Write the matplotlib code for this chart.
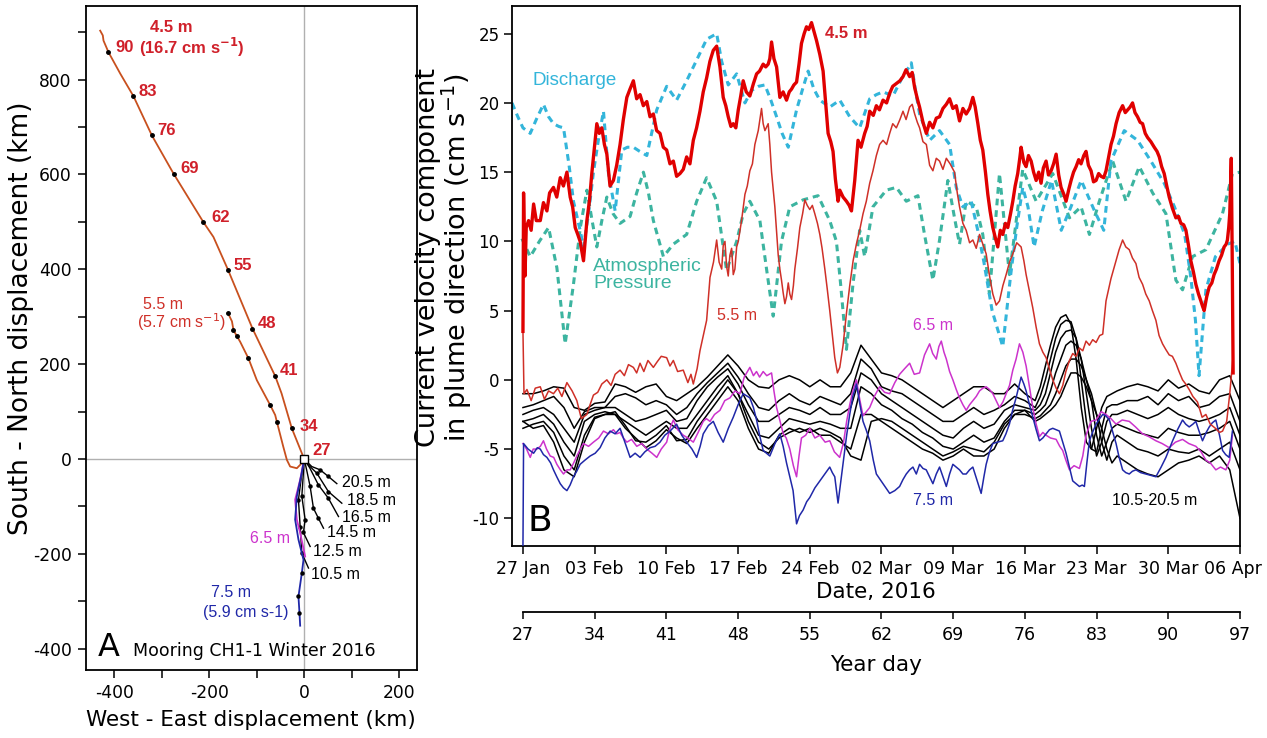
import numpy as np
import matplotlib
matplotlib.use("Agg")
import matplotlib.pyplot as plt
from matplotlib.ticker import MultipleLocator
from matplotlib.transforms import ScaledTranslation

plt.rcParams['font.family'] = 'DejaVu Sans'
plt.rcParams['axes.unicode_minus'] = False
ARIAL = 'Liberation Sans'

# ---------------- panel A : progressive vector tracks (km) ----------------
trk45_e = [0, -26, -47.6, -61, -108.8, -160.6, -191, -212, -275, -320.6, -359.4, -387, -412, -422.5, -424, -429.5]
trk45_n = [0, 64.6, 138.3, 174.7, 275, 399.4, 468, 499, 601.5, 682, 764.8, 812, 857.5, 882, 893, 903]
wk45_e = [-26, -61, -108.8, -160.6, -212, -275, -320.6, -359.4, -412]
wk45_n = [64.6, 174.7, 275, 399.4, 499, 601.5, 682, 764.8, 857.5]
wk45_lab = ['34', '41', '48', '55', '62', '69', '76', '83', '90']
wk45_lab_e = [-10.5, -50.5, -96.8, -149.5, -195.8, -261, -309.5, -349.5, -398]
wk45_lab_n = [67.4, 187.4, 286.3, 408.4, 509.5, 612.6, 692.6, 774.7, 867]

trk55_e = [0, -8, -15.4, -29.5, -36.4, -44, -57.5, -61, -71.6, -99.6, -117.3, -134.7, -141.7, -148.8, -152, -160.6]
trk55_n = [0, -12, -19.6, -16, -2, 26, 78.6, 92.6, 113.7, 166, 212, 247, 259, 271.6, 290, 308]
wk55_e = [-57.5, -71.6, -117.3, -141.7, -148.8, -160.6]
wk55_n = [78.6, 113.7, 212, 259, 271.6, 308]

deep_tracks = {
    '20.5 m': ([0, 16, 33.7, 51, 68.8], [0, -16, -23, -37, -52]),
    '18.5 m': ([0, 8.4, 26.7, 51, 79.3], [0, -12, -30, -68.8, -93.3]),
    '16.5 m': ([0, 11.9, 30, 51, 72.3], [0, -19, -54.7, -82.8, -121.4]),
    '14.5 m': ([0, 5, 12.6, 19.6, 30, 40.7], [0, -22, -58, -104, -125, -146]),
    '12.5 m': ([0, -1.6, -4.9, 2.1, -1.6, 12.6], [0, -29.5, -79, -128, -155, -184.6]),
    '10.5 m': ([0, -5.6, -12, -8.4, -4.9, 9.1], [0, -36.5, -86, -142.5, -198.6, -230]),
}
deep_lab_e = [80, 90.5, 80, 48.4, 19, 14.7]
deep_lab_n = [-50.5, -88.4, -123.6, -155.8, -195.8, -244.2]

trk65_e = [0, -8.4, -19, -15.4, -8.4, 2.1]
trk65_n = [0, -44, -86, -128, -156, -205.7]
trk75_e = [0, -5, -15.4, -19, -12, -1.4, -4.9, -12, -9.8, -8.4]
trk75_n = [0, -29, -79, -128, -170, -212.6, -240.6, -290, -325, -351.6]
wk75_e = [-4.9, -12, -9.8]
wk75_n = [-240.6, -290, -325]

# ---------------- panel B : velocity time series (days after 27 Jan) ----------------
d45 = [0.0, 0.06, 0.2, 0.32, 0.55, 0.8, 1.04, 1.3, 1.69, 2.0, 2.34, 2.6, 2.98, 3.3, 3.64, 3.95, 4.29, 4.61, 4.85, 5.1,
       5.35, 5.58, 5.75, 5.91, 6.24, 6.5, 6.72, 7.0, 7.21, 7.45, 7.7, 7.95, 8.19, 8.5, 8.83, 9.15, 9.48, 9.8, 10.14, 10.45,
       10.78, 11.1, 11.43, 11.75, 12.09, 12.4, 12.73, 13.05, 13.38, 13.7, 14.03, 14.35, 14.68, 15.0, 15.33, 15.65, 15.98,
       16.3, 16.63, 16.95, 17.28, 17.6, 17.93, 18.25, 18.58, 18.91, 19.23, 19.55, 19.8, 20.04, 20.3, 20.53, 20.78, 21.02,
       21.26, 21.5, 21.8, 22.15, 22.5, 22.81, 23.1, 23.45, 23.7, 23.94, 24.1, 24.27, 24.5, 24.76, 25.08, 25.4, 25.73, 26.0,
       26.22, 26.45, 26.71, 26.95, 27.19, 27.45, 27.68, 27.9, 28.17, 28.4, 28.66, 28.98, 29.3, 29.55, 29.79, 30.05, 30.27,
       30.5, 30.76, 30.93, 31.25, 31.58, 31.85, 32.07, 32.39, 32.71, 33.0, 33.36, 33.6, 33.85, 34.2, 34.5, 34.8, 35.15,
       35.5, 35.8, 36.1, 36.45, 36.8, 37.1, 37.4, 37.75, 38.0, 38.24, 38.5, 38.72, 39.05, 39.38, 39.7, 40.02, 40.35, 40.67,
       41.0, 41.33, 41.65, 41.97, 42.3, 42.62, 42.95, 43.27, 43.6, 43.92, 44.15, 44.41, 44.65, 44.89, 45.15, 45.38, 45.6,
       45.87, 46.1, 46.35, 46.6, 46.84, 47.1, 47.33, 47.6, 47.82, 48.05, 48.3, 48.5, 48.63, 48.9, 49.12, 49.35, 49.61,
       49.85, 50.1, 50.35, 50.58, 50.8, 51.07, 51.3, 51.56, 51.8, 52.05, 52.3, 52.53, 52.8, 53.02, 53.3, 53.51, 53.75,
       54.0, 54.25, 54.48, 54.75, 54.97, 55.2, 55.46, 55.7, 55.95, 56.2, 56.43, 56.7, 56.92, 57.15, 57.41, 57.65, 57.9,
       58.2, 58.54, 58.8, 59.03, 59.27, 59.51, 59.75, 60.0, 60.25, 60.49, 60.75, 60.98, 61.3, 61.63, 61.9, 62.12, 62.35,
       62.6, 62.85, 63.09, 63.4, 63.74, 64.0, 64.23, 64.5, 64.72, 64.95, 65.2, 65.45, 65.69, 65.95, 66.18, 66.35, 66.5,
       66.75, 66.99, 67.25, 67.47, 67.7, 67.96, 68.2, 68.45, 68.65, 68.77, 68.9, 69.0, 69.15, 69.25, 69.33]
v45 = [3.5, 13.5, 7.5, 11.0, 11.5, 10.8, 12.7, 11.5, 11.5, 12.8, 12.2, 13.5, 13.9, 13.2, 14.6, 14.0, 15.0, 13.2, 12.5, 11.0,
       10.5, 10.0, 9.3, 8.6, 11.5, 13.0, 14.9, 17.0, 18.5, 17.8, 18.2, 17.0, 16.3, 14.0, 14.4, 15.5, 17.0, 18.8, 20.4, 21.0,
       21.6, 20.3, 20.6, 19.8, 20.1, 19.0, 19.2, 18.0, 17.8, 16.8, 16.6, 15.6, 15.8, 14.7, 14.9, 15.2, 16.1,
       15.6, 17.3, 18.2, 19.4, 20.8, 21.8, 23.0, 23.8, 24.1, 22.6, 20.4, 19.8, 19.0, 18.3, 18.5, 18.2, 19.5,
       20.5, 21.6, 20.8, 20.5, 21.4, 22.1, 22.3, 22.8, 22.6, 22.8, 23.2, 24.4, 23.2, 22.6, 20.4, 20.8, 20.2, 20.8,
       21.0, 21.3, 21.5, 22.8, 24.3, 25.0, 25.5, 25.3, 25.8, 25.2, 24.5, 23.5, 22.3, 20.0, 17.8, 17.2, 16.5,
       14.5, 12.9, 13.7, 13.2, 12.9, 12.6, 12.2, 14.4, 17.3, 16.8, 17.8, 18.3, 19.4, 19.1, 19.8, 19.5, 20.2,
       20.0, 20.7, 21.2, 21.4, 21.6, 21.9, 22.4, 21.9, 22.2, 21.1, 20.3, 19.7, 18.6, 17.8, 18.6, 18.2, 18.9, 19.0,
       19.6, 19.9, 20.3, 19.6, 19.8, 18.7, 19.6, 19.2, 19.6, 20.4, 19.7, 18.5, 17.3, 16.6, 15.0, 13.4, 12.2,
       11.0, 10.3, 9.6, 10.8, 10.5, 11.3, 11.0, 12.0, 12.9, 14.0, 14.9, 16.0, 16.8, 15.7, 15.4, 16.2, 15.8,
       15.0, 14.4, 15.0, 14.2, 15.3, 15.8, 14.8, 15.1, 15.6, 16.3, 14.8, 13.9, 13.4, 12.9, 13.8, 14.4, 15.0,
       15.4, 15.9, 15.6, 16.2, 16.5, 15.5, 15.1, 14.3, 14.4, 14.9, 14.7, 14.6, 15.1, 16.0, 17.0, 17.6, 18.5,
       19.3, 19.8, 19.3, 19.5, 19.7, 20.0, 19.3, 19.0, 18.6, 18.5, 17.8, 17.5, 17.2, 16.8, 16.5, 16.1, 15.4,
       14.9, 14.0, 13.2, 12.4, 11.7, 11.8, 11.3, 11.2, 10.8, 9.8, 8.6, 7.8, 6.9, 6.2, 5.7, 5.3, 5.0,
       6.0, 6.7, 7.0, 7.6, 8.0, 8.6, 9.0, 9.6, 9.8, 10.1, 11.0, 12.0, 16.0, 8.0, 0.5]

d55 = [0.0, 0.1, 0.39, 0.8, 1.2, 1.69, 2.1, 2.5, 2.98, 3.4, 3.8, 4.29, 4.8, 5.26, 5.7, 6.24, 6.55, 6.88, 7.3, 7.7, 8.19,
       8.6, 9.0, 9.48, 9.9, 10.3, 10.78, 11.1, 11.43, 11.8, 12.2, 12.73, 13.1, 13.5, 14.03, 14.35, 14.68, 15.1, 15.65,
       16.1, 16.4, 16.63, 17.0, 17.28, 17.6, 17.93, 18.26, 18.6, 18.91, 19.15, 19.4, 19.55, 19.72, 19.88, 20.04, 20.2,
       20.37, 20.53, 20.69, 20.86, 21.02, 21.34, 21.67, 21.9, 22.15, 22.4, 22.64, 22.97, 23.29, 23.45, 23.62, 23.94,
       24.1, 24.27, 24.59, 24.92, 25.08, 25.24, 25.4, 25.57, 25.73, 25.9, 26.05, 26.22, 26.4, 26.54, 26.8, 27.03, 27.3,
       27.52, 27.75, 28.0, 28.25, 28.49, 28.75, 28.98, 29.2, 29.47, 29.7, 29.95, 30.2, 30.44, 30.7, 30.93, 31.25,
       31.58, 31.9, 32.23, 32.55, 32.87, 33.2, 33.52, 33.85, 34.17, 34.5, 34.82, 35.15, 35.5, 35.8, 36.1, 36.45,
       36.8, 37.1, 37.4, 37.75, 38.0, 38.24, 38.5, 38.72, 39.05, 39.38, 39.7, 40.02, 40.35, 40.67, 41.0, 41.33,
       41.7, 42.13, 42.4, 42.62, 42.95, 43.27, 43.6, 43.92, 44.25, 44.57, 44.9, 45.22, 45.55, 45.87, 46.2, 46.52,
       46.85, 47.17, 47.5, 47.82, 48.2, 48.63, 48.9, 49.12, 49.45, 49.77, 50.1, 50.42, 50.75, 51.07, 51.4, 51.72,
       52.05, 52.37, 52.7, 53.0, 53.35, 53.67, 54.0, 54.32, 54.65, 54.97, 55.3, 55.62, 55.95, 56.3, 56.6, 56.92,
       57.4, 57.9, 58.2, 58.54, 58.85, 59.19, 59.5, 59.84, 60.15, 60.49, 60.8, 61.14, 61.45, 61.79, 62.1, 62.44,
       62.75, 63.09, 63.4, 63.74, 64.05, 64.39, 64.7, 65.04, 65.4, 65.85, 66.3, 66.67, 67.1, 67.6, 68.0, 68.3,
       68.7, 69.0, 69.3]
v55 = [3.5, -1.0, -0.7, -1.5, -0.6, -0.5, -1.4, -0.8, -1.0, -0.6, -1.2, -0.2, -0.8, -1.5, -2.8, -2.5, -1.8, -1.1, -0.9, -0.3, 0.0,
       -0.4, 0.4, 0.7, 0.3, 1.1, 0.9, 0.5, 1.2, 0.6, 1.4, 0.9, 1.3, 1.7, 1.6, 1.0, 1.4, 0.6, 0.7,
       -0.2, 0.4, -0.3, 0.8, 2.1, 3.2, 4.3, 7.4, 8.5, 10.1, 8.5, 8.0, 9.7, 10.0, 8.2, 7.5, 9.0,
       9.5, 7.6, 8.0, 9.6, 10.0, 11.5, 13.4, 14.0, 15.1, 15.6, 17.0, 18.0, 19.6, 18.5, 18.0, 18.5,
       17.0, 15.0, 12.5, 9.0, 8.0, 7.2, 6.3, 5.5, 6.0, 7.0, 6.2, 5.8, 6.8, 8.0, 9.5, 11.0, 12.0,
       13.0, 12.6, 12.3, 12.6, 12.0, 11.3, 10.5, 9.5, 8.0, 6.6, 5.0, 3.3, 1.6, 0.5, 0.9, 2.5,
       4.8, 6.8, 8.6, 9.8, 10.8, 12.0, 12.9, 14.2, 15.1, 16.2, 17.0, 17.3, 17.0, 17.8, 18.5, 18.2,
       18.8, 19.4, 18.8, 19.7, 19.9, 19.2, 18.6, 18.2, 17.2, 17.0, 15.5, 15.1, 16.0, 15.8, 15.2, 16.0,
       15.6, 15.0, 13.5, 12.5, 11.3, 10.8, 9.9, 10.1, 9.5, 10.5, 9.8, 9.1, 7.5, 6.2, 5.4, 5.7,
       6.8, 7.6, 8.5, 9.1, 9.9, 9.6, 8.6, 7.6, 6.4, 5.2, 3.8, 2.6, 2.0, 1.6, 0.8, 0.0,
       -0.6, -1.0, -0.4, 0.6, 1.4, 1.9, 1.7, 2.3, 2.1, 2.8, 2.5, 2.9, 2.7, 3.2, 3.3, 5.7,
       7.3, 8.6, 9.4, 10.1, 9.6, 9.4, 8.8, 8.4, 7.4, 6.9, 6.2, 5.7, 5.0, 4.3, 3.2, 2.6,
       2.2, 1.8, 1.7, 1.2, 0.6, 0.0, -0.3, -0.7, -1.2, -1.6, -2.7, -2.5, -3.2, -3.5, -3.8, -3.7,
       -3.0, -1.0, 1.5]

d65 = [0.0, 0.35, 0.71, 1.0, 1.36, 1.7, 2.0, 2.3, 2.66, 3.0, 3.31, 3.65, 3.96, 4.3, 4.61, 4.95, 5.26, 5.6, 5.91, 6.4,
       6.88, 7.4, 7.86, 8.35, 8.83, 9.15, 9.48, 9.8, 10.14, 10.6, 11.11, 11.6, 12.09, 12.6, 13.06, 13.5, 14.03, 14.35,
       14.68, 15.1, 15.65, 16.1, 16.63, 17.1, 17.6, 17.9, 18.26, 18.7, 19.23, 19.7, 20.21, 20.7, 21.18, 21.6, 22.15,
       22.5, 22.8, 23.1, 23.45, 23.8, 24.27, 24.5, 24.76, 25.1, 25.41, 25.7, 26.05, 26.4, 26.71, 26.95, 27.19, 27.6,
       28.0, 28.5, 28.98, 29.5, 29.95, 30.4, 30.92, 31.3, 31.6, 31.9, 32.2, 32.55, 32.9, 33.2, 33.85, 34.3, 34.82,
       35.3, 35.8, 36.3, 36.77, 37.25, 37.75, 38.2, 38.72, 39.2, 39.7, 40.0, 40.35, 40.6, 40.84, 41.1, 41.33, 41.65,
       41.97, 42.3, 42.62, 42.95, 43.27, 43.6, 43.92, 44.25, 44.57, 44.9, 45.22, 45.55, 45.87, 46.2, 46.52, 46.85,
       47.17, 47.5, 47.82, 48.14, 48.47, 48.8, 49.12, 49.45, 49.77, 50.1, 50.42, 50.75, 51.07, 51.5, 52.05, 52.4,
       52.69, 53.0, 53.35, 53.8, 54.32, 54.65, 54.97, 55.45, 55.95, 56.45, 56.92, 57.4, 57.9, 58.5, 59.19, 59.8,
       60.49, 61.1, 61.79, 62.4, 63.09, 63.7, 64.39, 65.0, 65.69, 66.2, 66.67, 67.1, 67.64, 68.1, 68.62, 69.0, 69.26]
v65 = [-4.6, -5.0, -5.6, -5.0, -5.0, -4.8, -4.4, -5.0, -5.5, -5.6, -6.1, -6.5, -6.8, -6.5, -6.5, -6.0, -5.5, -5.0, -4.6, -4.8,
       -4.5, -4.2, -3.7, -3.9, -3.6, -3.9, -3.8, -4.2, -4.5, -4.3, -4.8, -4.6, -5.0, -5.3, -5.6, -5.0, -4.5, -3.5,
       -2.9, -3.6, -4.0, -4.2, -4.5, -3.8, -3.0, -2.8, -3.0, -2.5, -2.2, -1.5, -1.3, -0.8, -1.0, 0.2, 0.9,
       0.3, 0.6, 0.2, 0.6, 0.3, 0.5, -0.8, -2.0, -3.0, -3.9, -4.2, -5.0, -6.2, -7.0, -5.5, -4.2, -4.0,
       -3.5, -4.2, -4.0, -4.5, -4.4, -5.2, -5.6, -4.5, -3.0, -1.8, -0.8, 0.0, -1.5, -2.6, -2.0, -1.2, -0.5,
       -0.9, -1.0, -0.2, 0.4, 0.8, 1.2, 0.4, 0.5, 1.8, 2.6, 1.9, 1.5, 2.4, 2.8, 2.0, 1.5, 0.6,
       0.0, -0.7, -1.3, -1.8, -2.2, -1.8, -1.5, -1.2, -0.8, -0.6, -0.5, -0.7, -1.0, -1.5, -2.0, -1.6,
       -1.0, -0.4, 0.7, 1.5, 2.6, 2.0, 1.0, -0.5, -2.0, -3.2, -4.1, -3.8, -4.0, -4.2, -4.3, -4.8,
       -5.1, -5.8, -6.5, -6.2, -6.4, -5.5, -4.0, -3.0, -2.9, -2.3, -2.5, -2.8, -3.2, -2.9, -3.0, -3.4,
       -3.9, -4.1, -4.4, -4.6, -4.9, -4.5, -4.3, -4.6, -4.8, -5.2, -5.8, -6.0, -6.5, -6.3, -6.5, -5.8, -4.0]

d75 = [0.0, 0.06, 0.5, 1.04, 1.4, 1.69, 2.0, 2.34, 2.7, 2.98, 3.3, 3.64, 3.95, 4.29, 4.6, 4.93, 5.25, 5.58, 6.05, 6.56,
       7.05, 7.53, 8.0, 8.51, 9.0, 9.48, 9.95, 10.46, 10.95, 11.43, 11.9, 12.41, 12.9, 13.38, 13.85, 14.36, 15.0, 15.5,
       15.98, 16.5, 16.96, 17.3, 17.6, 18.1, 18.58, 19.05, 19.55, 20.05, 20.53, 21.0, 21.5, 22.15, 22.5, 22.81, 23.1,
       23.45, 24.1, 24.6, 25.08, 25.4, 25.73, 26.05, 26.37, 26.71, 27.0, 27.35, 27.7, 28.0, 28.5, 28.98, 29.45, 29.95,
       30.2, 30.44, 30.76, 31.0, 31.25, 31.6, 31.9, 32.2, 32.55, 32.9, 33.2, 33.5, 33.85, 34.2, 34.5, 35.15, 35.8,
       36.3, 36.77, 37.1, 37.42, 37.75, 38.07, 38.4, 38.72, 39.05, 39.37, 39.7, 40.02, 40.35, 40.67, 41.0, 41.33,
       41.65, 41.97, 42.3, 42.62, 42.95, 43.27, 43.6, 43.92, 44.3, 44.73, 45.0, 45.22, 45.55, 45.87, 46.3, 46.84,
       47.15, 47.49, 47.8, 48.14, 48.4, 48.63, 48.9, 49.12, 49.45, 49.77, 50.1, 50.42, 50.75, 51.07, 51.4, 51.72,
       52.05, 52.37, 52.7, 53.02, 53.35, 53.67, 54.0, 54.32, 54.6, 54.81, 55.05, 55.3, 55.6, 55.95, 56.3, 56.6,
       56.9, 57.25, 57.55, 57.9, 58.2, 58.54, 58.85, 59.19, 59.5, 59.84, 60.3, 60.82, 61.3, 61.79, 62.3, 62.77,
       63.1, 63.42, 63.9, 64.39, 64.7, 65.04, 65.4, 65.69, 66.0, 66.34, 66.7, 67.0, 67.3, 67.64, 68.0, 68.3,
       68.6, 68.94, 69.26]
v75 = [-12.0, -4.6, -5.0, -5.3, -4.9, -5.0, -5.4, -5.6, -6.0, -6.5, -7.0, -7.5, -7.8, -8.0, -7.6, -7.0, -6.6, -6.1, -5.8, -5.5,
       -5.3, -4.9, -4.2, -3.7, -3.9, -3.5, -4.5, -5.6, -5.3, -5.6, -5.2, -4.9, -4.8, -4.5, -4.0, -3.7, -3.2, -4.0,
       -4.5, -5.0, -5.6, -4.8, -3.9, -3.3, -3.0, -3.8, -4.5, -3.5, -2.7, -1.8, -1.0, -1.3, -2.0, -2.9, -4.0,
       -5.1, -5.5, -4.6, -3.9, -4.8, -6.0, -7.0, -8.0, -10.4, -9.8, -9.4, -8.8, -8.5, -7.8, -7.3, -6.8, -6.3,
       -6.7, -7.0, -8.9, -7.5, -6.0, -4.0, -2.5, -1.2, -0.3, -1.8, -3.0, -3.6, -4.4, -5.8, -6.8, -7.5, -8.2,
       -8.0, -7.7, -7.2, -6.8, -6.5, -6.3, -6.8, -6.1, -6.4, -6.5, -7.0, -7.5, -6.8, -6.3, -7.0, -7.7,
       -6.8, -6.1, -6.3, -6.5, -6.8, -6.8, -6.5, -6.3, -7.2, -8.2, -7.0, -6.1, -5.2, -4.6, -4.5, -4.4,
       -3.9, -3.2, -2.2, -1.3, -0.5, 0.2, -0.3, -0.8, -1.8, -2.7, -3.6, -4.4, -4.2, -3.9, -3.6, -3.5,
       -3.6, -3.7, -4.5, -5.3, -6.3, -7.3, -7.5, -7.7, -7.6, -7.7, -6.0, -4.4, -3.8, -3.2, -2.8, -2.5,
       -2.6, -2.9, -3.7, -4.6, -5.6, -6.5, -6.7, -6.8, -6.6, -6.5, -6.7, -6.8, -6.9, -7.0, -6.3, -5.6,
       -5.0, -4.4, -3.6, -2.9, -3.2, -3.4, -3.2, -3.0, -3.7, -4.4, -3.8, -3.4, -3.1, -2.9, -4.0, -5.1,
       -5.4, -5.6, -3.7]

# 10.5 - 20.5 m, common day grid
d_deep = list(range(0, 50)) + [50, 50.5, 51, 51.5, 52, 52.5, 53, 53.5, 54, 54.5, 55, 55.5, 56, 56.5, 57, 57.5] + list(range(58, 71))
v_deep = [
    [-1.0, -1.0, -0.8, -0.5, -0.6, -2.0, -2.2, -1.7, -1.6, -0.3, -0.5, -0.9, -0.5, -0.3, -1.2, -1.5, -1.0, -0.5, 0.2, 1.0,
     1.8, 1.0, 0.0, -0.5, -0.6, 0.0, 0.3, 0.0, -0.5, 0.0, -0.5, -0.5, 0.5, 2.5, 1.5, 0.5, 0.3, 0.0, -0.5, -1.0,
     -1.5, -2.0, -1.5, -1.0, -0.5, -0.5, -1.0, -1.0, -0.3, -1.0,
     -1.5, -0.5, 1.0, 2.5, 3.8, 4.5, 4.7, 4.0, 1.5, -2.0, -4.5, -5.0, -3.5, -2.0, -1.2, -1.0,
     -0.8, -0.5, -0.3, -0.5, -0.8, 0.0, -0.6, -0.3, -0.8, -1.0, 0.0, 0.3, -1.5],
    [-2.0, -1.8, -1.5, -1.2, -2.0, -3.5, -2.3, -2.0, -2.0, -1.2, -1.0, -1.3, -1.8, -1.5, -1.8, -2.5, -2.0, -1.0, -0.2, 0.5,
     1.2, 0.2, -1.0, -2.0, -2.2, -1.5, -1.0, -1.5, -1.8, -1.2, -1.5, -1.8, -1.0, 1.5, 0.8, -0.5, -0.8, -1.0, -1.5, -2.0,
     -2.5, -3.0, -3.0, -2.5, -2.0, -2.5, -2.2, -1.8, -1.2, -1.5,
     -2.0, -1.2, 0.0, 1.5, 3.0, 4.0, 4.3, 4.2, 3.0, 0.0, -3.0, -5.0, -5.2, -3.5, -2.0, -1.8,
     -1.8, -1.5, -1.5, -1.2, -1.8, -1.0, -1.5, -1.2, -2.0, -1.8, -1.2, -1.0, -3.0],
    [-2.5, -2.2, -2.0, -2.5, -3.5, -4.5, -2.5, -2.2, -2.0, -2.0, -2.5, -3.0, -2.8, -2.5, -2.2, -3.0, -2.8, -1.5, -0.5, 0.2,
     0.8, -0.3, -1.8, -3.0, -3.0, -2.5, -2.0, -2.2, -2.5, -2.0, -2.5, -2.5, -2.0, 0.5, 0.0, -1.0, -1.5, -2.0, -2.5, -3.0,
     -3.5, -4.0, -4.2, -3.5, -3.0, -3.5, -3.2, -2.2, -1.8, -2.0,
     -2.2, -1.8, -1.0, 0.5, 2.0, 3.0, 3.5, 3.6, 3.0, 1.5, -1.0, -3.5, -5.5, -4.5, -3.0, -2.5,
     -2.5, -2.2, -2.5, -2.8, -2.5, -2.0, -2.5, -2.8, -3.0, -2.8, -2.5, -2.0, -4.0],
    [-3.0, -2.8, -2.5, -3.2, -4.5, -5.5, -3.0, -2.5, -2.3, -2.5, -3.0, -3.5, -4.0, -3.5, -3.0, -3.5, -3.5, -2.5, -1.5, -0.5,
     0.3, -1.0, -2.5, -4.0, -4.2, -3.5, -2.8, -3.0, -3.2, -3.0, -3.2, -3.5, -3.5, -0.5, -1.0, -1.8, -2.2, -2.8, -3.2, -3.8,
     -4.2, -4.8, -5.0, -4.5, -4.0, -4.5, -4.2, -3.0, -2.2, -2.2,
     -2.5, -2.2, -1.8, -0.8, 0.5, 1.5, 2.5, 2.8, 2.5, 1.5, 0.0, -1.5, -4.0, -5.5, -4.5, -3.5,
     -3.2, -3.5, -3.8, -4.0, -4.2, -3.5, -3.8, -4.0, -4.0, -3.8, -3.5, -3.0, -5.0],
    [-3.5, -3.2, -3.0, -3.8, -5.5, -6.5, -4.0, -2.7, -2.5, -2.5, -3.5, -4.2, -4.9, -4.4, -3.6, -4.2, -4.6, -3.5, -2.5, -1.5,
     -0.5, -1.5, -3.5, -5.0, -5.3, -4.0, -3.5, -3.8, -3.5, -4.0, -4.0, -4.5, -5.0, -2.5, -2.5, -3.0, -3.5, -4.0, -4.5, -5.0,
     -5.3, -5.8, -5.5, -5.0, -5.5, -5.5, -5.0, -3.5, -2.5, -2.5,
     -2.8, -2.6, -2.2, -1.8, -1.0, 0.0, 1.0, 1.5, 1.5, 1.0, 0.0, -1.0, -2.5, -4.5, -5.8, -4.5,
     -4.0, -4.5, -5.0, -5.2, -5.5, -5.0, -5.2, -5.3, -5.0, -5.5, -5.0, -4.5, -6.5],
    [-3.0, -3.5, -3.3, -4.5, -6.5, -7.0, -4.5, -2.8, -2.5, -2.3, -3.3, -4.4, -4.5, -4.0, -3.3, -4.4, -4.3, -3.0, -2.0, -1.0,
     0.0, -1.0, -3.0, -4.5, -5.0, -4.2, -3.8, -3.5, -3.8, -3.5, -3.8, -4.2, -5.5, -5.8, -3.0, -2.8, -3.0, -3.5, -4.0, -4.5,
     -5.0, -5.5, -5.2, -4.8, -5.0, -5.2, -4.5, -3.2, -2.5, -2.2,
     -3.0, -2.8, -2.5, -2.2, -1.8, -1.2, -0.3, 0.5, 0.5, 0.2, -0.5, -1.5, -2.5, -3.5, -5.0, -6.0,
     -5.5, -6.0, -6.5, -6.8, -7.0, -6.5, -6.0, -5.8, -5.5, -6.0, -5.5, -6.5, -10.0],
]

d_dis = [-1.07, -0.5, 0.0, 0.71, 1.3, 2.0, 2.5, 2.98, 3.5, 3.96, 4.5, 4.93, 5.58, 5.91, 6.4, 6.88, 7.4, 7.86, 8.35, 9.0,
         9.65, 10.2, 10.78, 11.4, 12.09, 13.06, 14.03, 15.0, 15.98, 16.96, 17.93, 18.91, 19.4, 20.04, 20.86, 21.67,
         22.32, 23.0, 23.62, 24.2, 24.76, 25.3, 25.9, 26.71, 27.3, 27.84, 28.4, 28.98, 29.95, 30.93, 31.9, 32.87,
         33.85, 34.5, 35.15, 36.12, 37.0, 37.6, 37.91, 38.3, 38.72, 39.7, 40.67, 41.65, 42.3, 42.94, 43.76, 44.4,
         45.0, 45.8, 46.84, 47.6, 48.2, 48.79, 49.3, 49.9, 50.7, 51.6, 52.55, 53.5, 54.5, 55.8, 56.7, 57.4, 58.7,
         60.0, 61.3, 62.6, 63.6, 64.6, 65.2, 65.65, 66.0, 66.67, 67.6, 68.8, 69.5, 70.0]
v_dis = [20.0, 19.0, 18.2, 17.8, 18.8, 19.9, 19.0, 18.5, 18.3, 18.2, 15.5, 12.9, 10.8, 9.6, 12.0, 15.0, 17.5, 19.4, 14.9, 12.2,
         16.6, 16.8, 16.8, 16.5, 16.2, 19.5, 21.2, 20.2, 21.6, 23.1, 24.6, 25.0, 23.0, 21.3, 22.1, 20.0,
         20.9, 21.2, 21.3, 20.2, 19.0, 17.8, 16.8, 19.5, 21.0, 22.3, 21.0, 20.2, 19.7, 20.2, 19.0, 18.2,
         20.3, 20.6, 20.8, 20.5, 21.8, 22.5, 22.9, 21.0, 19.2, 17.3, 18.0, 17.0, 13.9, 12.5, 12.9, 10.8,
         8.5, 5.0, 2.4, 7.5, 11.0, 13.9, 12.5, 9.6, 12.2, 14.4, 10.8, 12.5, 14.4, 12.2, 10.8, 15.8, 18.0,
         17.3, 15.8, 14.2, 12.5, 10.5, 7.4, 4.3, 0.3, 6.5, 8.9, 9.8, 10.0, 8.4]

d_atm = [-0.1, 0.71, 1.6, 2.5, 3.31, 4.12, 4.93, 5.6, 6.24, 6.75, 7.21, 7.7, 8.19, 8.8, 9.48, 10.46, 11.1, 11.76, 12.25,
         12.73, 13.71, 14.68, 15.98, 16.96, 17.93, 18.91, 19.88, 20.86, 21.5, 22.15, 23.13, 23.78, 24.43, 25.24, 26.05,
         27.35, 28.81, 29.95, 30.6, 31.0, 31.58, 32.23, 32.87, 33.36, 34.17, 35.47, 36.45, 37.42, 38.56, 39.2, 40.02,
         40.67, 41.48, 42.13, 42.62, 43.27, 44.25, 44.89, 45.54, 46.52, 47.49, 48.79, 50.1, 51.72, 53.35, 54.48, 55.3,
         56.27, 57.57, 58.87, 60.17, 61.47, 62.77, 63.74, 64.39, 65.36, 66.67, 68.29, 69.26, 70.0]
v_atm = [10.2, 8.9, 10.0, 11.0, 8.1, 2.6, 6.9, 11.0, 13.7, 11.5, 9.6, 11.5, 13.2, 12.0, 11.3, 11.8, 13.5, 15.0, 13.5,
         11.5, 8.9, 9.8, 10.5, 12.9, 14.6, 12.9, 7.9, 10.0, 12.0, 12.9, 11.5, 8.0, 4.6, 10.0, 12.5,
         13.0, 13.3, 11.5, 10.0, 7.0, 2.2, 7.0, 10.8, 8.9, 12.5, 13.7, 13.9, 12.9, 13.3, 10.5, 7.2,
         10.1, 14.4, 11.7, 9.8, 12.9, 12.5, 10.5, 6.2, 14.9, 7.6, 15.2, 12.9, 14.9, 11.7, 12.5, 10.5,
         12.9, 15.8, 12.9, 15.4, 13.5, 12.0, 7.2, 6.5, 8.9, 9.4, 12.0, 14.9, 15.0]

date_ticks = [27, 34, 41, 48, 55, 62, 69, 76, 83, 90, 97]
date_labels = ['27 Jan', '03 Feb', '10 Feb', '17 Feb', '24 Feb', '02 Mar', '09 Mar', '16 Mar', '23 Mar', '30 Mar', '06 Apr']

C_TRACK = '#c8501e'
C_BOLD = '#d0202a'
C_RED = '#e00000'
C_RED55 = '#cf3028'
C_MAG = '#cc33cc'
C_BLUE = '#2028a8'
C_DIS = '#33b5da'
C_ATM = '#3cb4a0'

W, H = 1267, 738
fig = plt.figure(figsize=(W / 100, H / 100), dpi=100)

# ---------------- panel A ----------------
ax1 = fig.add_axes([85.7 / W, 1 - 670 / H, 331 / W, 664 / H])
ax1.set_xlim(-460, 237)
ax1.set_ylim(-445, 955)
ax1.axhline(0, color='#b0b0b0', lw=1.0, zorder=0)
ax1.axvline(0, color='#b0b0b0', lw=1.0, zorder=0)

ax1.plot(trk45_e, trk45_n, color=C_TRACK, lw=1.3)
ax1.plot(trk55_e, trk55_n, color=C_TRACK, lw=1.3)
for lab, (e, n) in deep_tracks.items():
    ax1.plot(e, n, color='black', lw=1.0)
    ax1.plot(e[2:-1], n[2:-1], 'o', color='black', ms=2.2)
ax1.plot(trk65_e, trk65_n, color=C_MAG, lw=1.3)
ax1.plot(trk75_e, trk75_n, color=C_BLUE, lw=1.3)
ax1.plot(wk45_e, wk45_n, 'o', color='black', ms=2.5)
ax1.plot(wk55_e, wk55_n, 'o', color='black', ms=2.5)
ax1.plot(wk75_e, wk75_n, 'o', color='black', ms=2.2)
ax1.plot([0], [0], 's', mfc='white', mec='black', ms=6, mew=1)

for t, e, n in zip(wk45_lab, wk45_lab_e, wk45_lab_n):
    ax1.text(e, n, t, color=C_BOLD, fontsize=12, fontweight='bold', family=ARIAL, ha='left', va='center')
ax1.text(16.8, 16.8, '27', color=C_BOLD, fontsize=12, fontweight='bold', family=ARIAL, ha='left', va='center')
ax1.text(-280, 909, '4.5 m', color=C_BOLD, fontsize=12, fontweight='bold', family=ARIAL, ha='center', va='center')
ax1.text(-237, 867, '(16.7 cm s$^{\\mathbf{-1}}$)', color=C_BOLD, fontsize=12, fontweight='bold', family=ARIAL,
         ha='center', va='center')
ax1.text(-339, 326, '5.5 m', color=C_RED55, fontsize=11.5, family=ARIAL, ha='left', va='center')
ax1.text(-352, 288, '(5.7 cm s$^{-1}$)', color=C_RED55, fontsize=11.5, family=ARIAL, ha='left', va='center')
for lab, e, n in zip(deep_tracks.keys(), deep_lab_e, deep_lab_n):
    ax1.text(e, n, lab, color='black', fontsize=11.5, family=ARIAL, ha='left', va='center')
ax1.text(-29.5, -168, '6.5 m', color=C_MAG, fontsize=11.5, family=ARIAL, ha='right', va='center')
ax1.text(-154, -282, '7.5 m', color=C_BLUE, fontsize=11.5, family=ARIAL, ha='center', va='center')
ax1.text(-123, -324, '(5.9 cm s-1)', color=C_BLUE, fontsize=11.5, family=ARIAL, ha='center', va='center')
ax1.text(-434, -398, 'A', fontsize=23, ha='left', va='center')
ax1.text(-360, -404, 'Mooring CH1-1 Winter 2016', fontsize=12.5, ha='left', va='center')

ax1.xaxis.set_major_locator(MultipleLocator(200))
ax1.xaxis.set_minor_locator(MultipleLocator(100))
ax1.yaxis.set_major_locator(MultipleLocator(200))
ax1.yaxis.set_minor_locator(MultipleLocator(100))
ax1.tick_params(which='both', direction='out', length=6, width=1.1)
ax1.tick_params(labelsize=12.3, pad=4)
ax1.set_xlabel('West - East displacement (km)', fontsize=15.5, labelpad=6)
ax1.set_ylabel('South - North displacement (km)', fontsize=19)
ax1.yaxis.set_label_coords(-0.155, 0.53)
for s in ax1.spines.values():
    s.set_linewidth(1.3)

# ---------------- panel B ----------------
ax2 = fig.add_axes([512 / W, 1 - 546 / H, 728 / W, 540 / H])
t45 = 27 + np.array(d45)
t55 = 27 + np.array(d55)
t65 = 27 + np.array(d65)
t75 = 27 + np.array(d75)
tdeep = 27 + np.array(d_deep)
tdis = 27 + np.array(d_dis)
tatm = 27 + np.array(d_atm)

ax2.plot(tatm, v_atm, color=C_ATM, lw=2.2, ls=(0, (2.2, 1.6)), zorder=2)
ax2.plot(tdis, v_dis, color=C_DIS, lw=2.2, ls=(0, (2.2, 1.6)), zorder=2)
for v in v_deep:
    ax2.plot(tdeep, v, color='black', lw=1.1, zorder=3)
ax2.plot(t65, v65, color=C_MAG, lw=1.1, zorder=3)
ax2.plot(t75, v75, color=C_BLUE, lw=1.1, zorder=3)
ax2.plot(t55, v55, color=C_RED55, lw=1.1, zorder=4)
ax2.plot(t45, v45, color=C_RED, lw=2.4, zorder=5)

ax2.set_xlim(25.93, 97)
ax2.set_ylim(-12, 27)
ax2.set_xticks(date_ticks)
ax2.set_xticklabels(date_labels)
ax2.set_yticks(range(-10, 30, 5))
ax2.tick_params(direction='out', length=6, width=1.1)
ax2.tick_params(axis='x', labelsize=12.5, pad=4)
ax2.tick_params(axis='y', labelsize=12, pad=3)
last = ax2.get_xticklabels()[-1]
last.set_transform(last.get_transform() + ScaledTranslation(-7 / 100, 0, fig.dpi_scale_trans))
ax2.set_xlabel('Date, 2016', fontsize=15.5, labelpad=3)
ax2.set_ylabel('Current velocity component\nin plume direction (cm s$^{-1}$)', fontsize=19.5, linespacing=0.95)
ax2.yaxis.set_label_coords(-0.052, 0.535)
for s in ax2.spines.values():
    s.set_linewidth(1.3)

ax2.text(56.46, 25.0, '4.5 m', color=C_BOLD, fontsize=12, fontweight='bold', family=ARIAL, ha='left', va='center')
ax2.text(27.9, 21.6, 'Discharge', color=C_DIS, fontsize=13.5, family=ARIAL, ha='left', va='center')
ax2.text(33.85, 7.6, 'Atmospheric\nPressure', color=C_ATM, fontsize=14, family=ARIAL, ha='left', va='center',
         linespacing=1.0)
ax2.text(45.94, 4.65, '5.5 m', color=C_RED55, fontsize=11.5, family=ARIAL, ha='left', va='center')
ax2.text(65.04, 3.9, '6.5 m', color=C_MAG, fontsize=11.5, family=ARIAL, ha='left', va='center')
ax2.text(65.04, -8.7, '7.5 m', color=C_BLUE, fontsize=11.5, family=ARIAL, ha='left', va='center')
ax2.text(84.54, -8.7, '10.5-20.5 m', color='black', fontsize=11.5, family=ARIAL, ha='left', va='center')
ax2.text(27.42, -10.16, 'B', fontsize=26, ha='left', va='center')

# ---------------- year-day axis ----------------
ax3 = fig.add_axes([512 / W, 1 - 611.7 / H, 728 / W, 0.0001])
ax3.set_xlim(25.93, 97)
ax3.set_yticks([])
for s in ['top', 'left', 'right']:
    ax3.spines[s].set_visible(False)
ax3.spines['bottom'].set_bounds(27, 97)
ax3.spines['bottom'].set_linewidth(1.3)
ax3.patch.set_visible(False)
ax3.set_xticks(date_ticks)
ax3.tick_params(direction='out', length=5, width=1.1, labelsize=12.5, pad=5)
ax3.set_xlabel('Year day', fontsize=15.5, labelpad=8)

fig.savefig('out.png', dpi=100)
